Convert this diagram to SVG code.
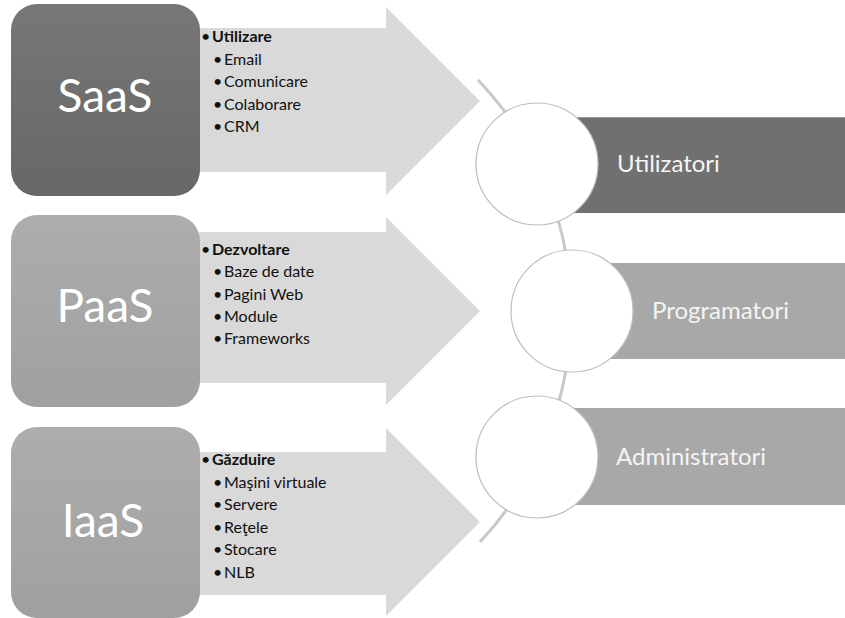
<svg xmlns="http://www.w3.org/2000/svg" width="845" height="618" viewBox="0 0 845 618">
<defs>
<linearGradient id="gDark" x1="0" y1="0" x2="0" y2="1"><stop offset="0" stop-color="#777"/><stop offset="1" stop-color="#676767"/></linearGradient>
<linearGradient id="gLight" x1="0" y1="0" x2="0" y2="1"><stop offset="0" stop-color="#adadad"/><stop offset="1" stop-color="#a0a0a0"/></linearGradient>
</defs>
<style>
.arrow{fill:#d9d9d9}
.big{font-family:Lato,"Noto Sans",sans-serif;font-size:46px;fill:#fff;text-anchor:middle}
.list{font-family:Lato,"Noto Sans",sans-serif;font-size:16px;fill:#111}
.hd{font-weight:bold}
.bar{font-family:Lato,"Noto Sans",sans-serif;font-size:24px;fill:#f4f4f4}
.circ{fill:#fff;stroke:#bdbdbd;stroke-width:1.2}
.conn{fill:none;stroke:#c8c8c8;stroke-width:3}
</style>
<rect width="845" height="618" fill="#fff"/>

<g id="arrows">
<path class="arrow" d="M199 28 H386 V7 L480 101 L386 195 V172 H199 Z"/>
<path class="arrow" d="M199 232 H386 V217 L480 311 L386 405 V383 H199 Z"/>
<path class="arrow" d="M199 452 H386 V428 L480 522 L386 616 V595 H199 Z"/>
</g>

<g id="saas">
<rect x="11" y="4" width="189" height="192" rx="26" fill="url(#gDark)"/>
<text class="big" x="105" y="112">SaaS</text>
</g>
<g id="paas">
<rect x="11" y="215" width="189" height="192" rx="26" fill="url(#gLight)"/>
<text class="big" x="105" y="322">PaaS</text>
</g>
<g id="iaas">
<rect x="11" y="427" width="189" height="191" rx="26" fill="url(#gLight)"/>
<text class="big" x="103" y="537">IaaS</text>
</g>

<g id="list-saas" class="list">
<text y="42"><tspan x="201">•</tspan><tspan x="212" class="hd">Utilizare</tspan></text>
<text y="65"><tspan x="213">•</tspan><tspan x="224">Email</tspan></text>
<text y="87"><tspan x="213">•</tspan><tspan x="224">Comunicare</tspan></text>
<text y="110"><tspan x="213">•</tspan><tspan x="224">Colaborare</tspan></text>
<text y="132"><tspan x="213">•</tspan><tspan x="224">CRM</tspan></text>
</g>
<g id="list-paas" class="list">
<text y="255"><tspan x="201">•</tspan><tspan x="212" class="hd">Dezvoltare</tspan></text>
<text y="277"><tspan x="213">•</tspan><tspan x="224">Baze de date</tspan></text>
<text y="300"><tspan x="213">•</tspan><tspan x="224">Pagini Web</tspan></text>
<text y="322"><tspan x="213">•</tspan><tspan x="224">Module</tspan></text>
<text y="344"><tspan x="213">•</tspan><tspan x="224">Frameworks</tspan></text>
</g>
<g id="list-iaas" class="list">
<text y="465"><tspan x="201">•</tspan><tspan x="212" class="hd">Găzduire</tspan></text>
<text y="488"><tspan x="213">•</tspan><tspan x="224">Maşini virtuale</tspan></text>
<text y="510"><tspan x="213">•</tspan><tspan x="224">Servere</tspan></text>
<text y="533"><tspan x="213">•</tspan><tspan x="224">Reţele</tspan></text>
<text y="555"><tspan x="213">•</tspan><tspan x="224">Stocare</tspan></text>
<text y="578"><tspan x="213">•</tspan><tspan x="224">NLB</tspan></text>
</g>

<g id="connectors">
<path class="conn" d="M478 80 A336 336 0 0 1 480 542"/>
</g>

<g id="utilizatori">
<rect x="560" y="117" width="285" height="96" fill="#707070"/>
<line x1="560" y1="117.5" x2="845" y2="117.5" stroke="#9a9a9a" stroke-width="1"/>
<circle class="circ" cx="537" cy="164" r="61"/>
<text class="bar" x="617" y="172">Utilizatori</text>
</g>
<g id="programatori">
<rect x="600" y="263" width="245" height="96" fill="#a8a8a8"/>
<circle class="circ" cx="572" cy="311" r="61"/>
<text class="bar" x="652" y="319">Programatori</text>
</g>
<g id="administratori">
<rect x="560" y="408" width="285" height="97" fill="#a8a8a8"/>
<circle class="circ" cx="537" cy="457" r="61"/>
<text class="bar" x="616" y="465">Administratori</text>
</g>
</svg>
